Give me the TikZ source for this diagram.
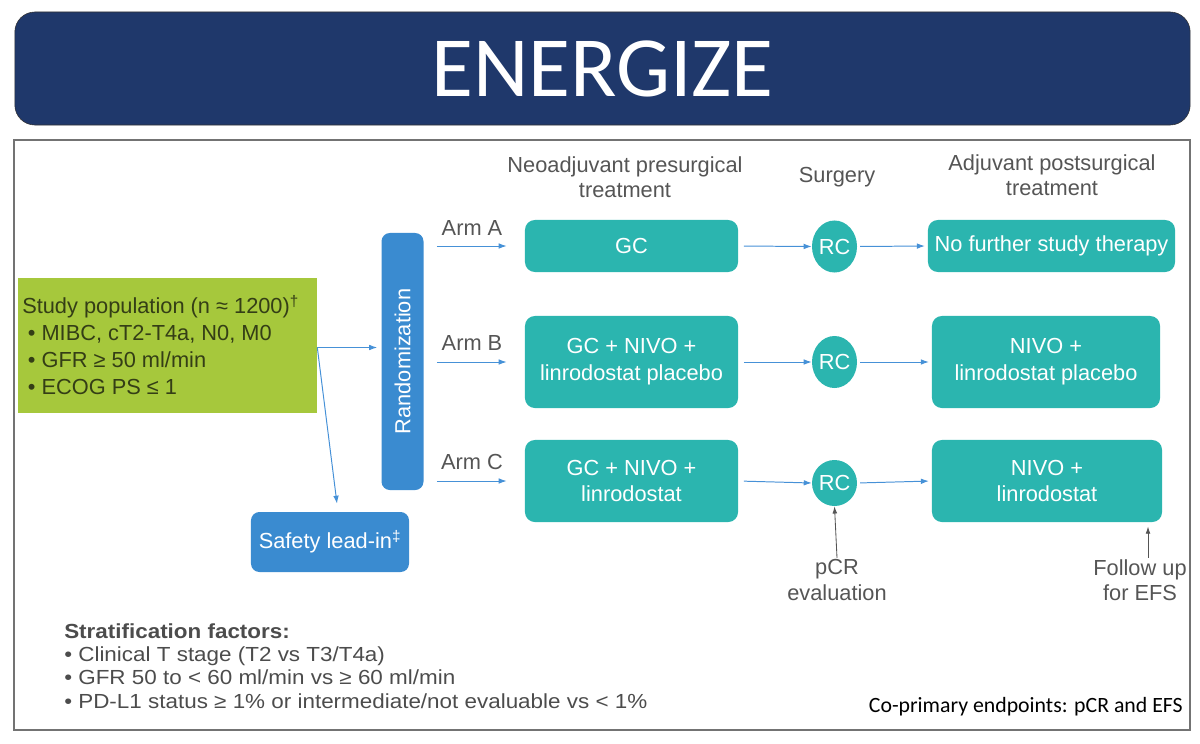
\documentclass[tikz,border=0pt]{standalone}
\usepackage{fontspec}
\setmainfont{Liberation Sans}
\newfontfamily\calibri{Carlito}
\newfontfamily\widesans{Liberation Sans}[FakeStretch=1.1]
\usepackage{tikz}
\usetikzlibrary{positioning,shapes.geometric,arrows.meta}

\definecolor{navy}{RGB}{31,56,107}
\definecolor{trialteal}{RGB}{43,181,175}
\definecolor{randblue}{RGB}{58,139,208}
\definecolor{popgreen}{RGB}{166,200,60}
\definecolor{poptext}{RGB}{52,62,22}
\definecolor{arrowblue}{RGB}{70,145,215}
\definecolor{txtgrey}{RGB}{85,85,85}

\tikzset{
  tbox/.style={fill=trialteal, rounded corners=7pt, text=white, align=center, inner sep=0pt,
    font=\fontsize{15.5}{19}\selectfont},
  rcnode/.style={ellipse, fill=trialteal, text=white, inner sep=0pt, minimum width=1.125cm,
    minimum height=1.3cm, font=\fontsize{15.5}{19}\selectfont},
  bluebox/.style={fill=randblue, rounded corners=6pt, text=white, inner sep=0pt,
    font=\fontsize{15.5}{19}\selectfont},
  lbl/.style={text=txtgrey, align=center, inner sep=1pt, font=\fontsize{15.5}{18}\selectfont},
  arr/.style={draw=arrowblue, line width=0.7pt, -{Latex[length=2mm,width=1.4mm]}},
  greyarr/.style={draw=txtgrey, line width=0.6pt, -{Latex[length=1.8mm,width=1.2mm]}}
}

\begin{document}
\begin{tikzpicture}[x=0.025cm, y=-0.025cm]
  \useasboundingbox (0,0) rectangle (1200,743);

  % Titolo
  \node[fill=navy, draw=black!80, rounded corners=0.5cm, minimum width=29.375cm,
    minimum height=2.825cm, inner sep=0pt] (banner) at (602.5,68.5) {};
  \node[text=white, font=\calibri\fontsize{61}{61}\selectfont] (title) at (banner) {ENERGIZE};
  \draw[black!55, line width=1pt] (14,140) rectangle (1190,730);

  % Popolazione e randomizzazione
  \node[fill=popgreen, minimum width=7.475cm, minimum height=3.375cm, inner sep=0pt] (pop) at (167.5,345.5) {};
  \node[text=poptext, align=left, anchor=north west, inner sep=0pt,
    font=\fontsize{15.5}{19.2}\selectfont] (poptxt) at (22,295)
    {Study population (n ≈ 1200)\textsuperscript{†}\\
     \hspace{4pt}• MIBC, cT2-T4a, N0, M0\\
     \hspace{4pt}• GFR ≥ 50 ml/min\\
     \hspace{4pt}• ECOG PS ≤ 1};
  \node[bluebox, minimum width=1.05cm, minimum height=6.425cm] (rand) at (402.5,361.5) {};
  \node[text=white, rotate=90, font=\fontsize{15.5}{19}\selectfont] (randtxt) at (rand) {Randomization};
  \node[bluebox, minimum width=3.95cm, minimum height=1.5cm] (safety) at (330,542) {Safety lead-in\textsuperscript{‡}};

  % Intestazioni
  \node[lbl] (neohead) at (625,177) {Neoadjuvant presurgical\\treatment};
  \node[lbl] (surghead) at (837,177) {Surgery};
  \node[lbl] (adjhead) at (1052,175) {Adjuvant postsurgical\\treatment};

  % Bracci
  \node[tbox, minimum width=5.325cm, minimum height=1.3cm] (gcA) at (631.5,246) {GC};
  \node[tbox, minimum width=5.325cm, minimum height=2.3cm] (gcB) at (631.5,362) {GC + NIVO +\\linrodostat placebo};
  \node[tbox, minimum width=5.325cm, minimum height=2.05cm] (gcC) at (631.5,481) {GC + NIVO +\\linrodostat};

  \node[rcnode] (rcA) at (834.5,246.5) {RC};
  \node[rcnode] (rcB) at (834.5,362) {RC};
  \node[rcnode, minimum height=1.15cm] (rcC) at (834.5,483) {RC};

  \node[tbox, minimum width=6.175cm, minimum height=1.3cm] (adjA) at (1051.5,246) {No further study therapy};
  \node[tbox, minimum width=5.7cm, minimum height=2.3cm] (adjB) at (1046,362) {NIVO +\\linrodostat placebo};
  \node[tbox, minimum width=5.75cm, minimum height=2.05cm] (adjC) at (1047,481) {NIVO +\\linrodostat};

  \node[lbl] (armA) at (472,228) {Arm A};
  \node[lbl] (armB) at (472,343) {Arm B};
  \node[lbl] (armC) at (472,462) {Arm C};

  \foreach \r in {A,B,C} {
    \draw[arr] ([xshift=0.325cm]rand.east |- gc\r.west) -- ([xshift=-0.45cm]gc\r.west);
    \draw[arr, shorten <=4pt] (gc\r.east) -- (rc\r.west);
    \draw[arr, shorten <=2pt, shorten >=2pt] (rc\r.east) -- (adj\r.west);
  }

  \draw[arr] ([yshift=-0.05cm]pop.east) -- ([xshift=-0.1cm, yshift=-0.05cm]pop.east -| rand.west);
  \draw[arr] ([yshift=-0.05cm]pop.east) -- ([xshift=0.175cm, yshift=0.2cm]safety.north);

  % Valutazioni
  \node[lbl] (pcr) at (837,580) {pCR\\evaluation};
  \draw[greyarr] (pcr.north) -- (rcC.south);
  \node[lbl] (followup) at (1140,580) {Follow up\\for EFS};
  \draw[greyarr, shorten >=3pt] ([xshift=0.2cm]followup.north) -- ([xshift=0.2cm]followup.north |- adjC.south);

  % Fattori di stratificazione
  \node[text=black!70, align=left, anchor=north west, inner sep=0pt,
    font=\widesans\fontsize{14.5}{16.6}\selectfont] (strat) at (64,623)
    {\textbf{Stratification factors:}\\
     • Clinical T stage (T2 vs T3/T4a)\\
     • GFR 50 to < 60 ml/min vs ≥ 60 ml/min\\
     • PD-L1 status ≥ 1\% or intermediate/not evaluable vs < 1\%};
  \node[anchor=east, inner sep=0pt, font=\calibri\fontsize{15.5}{17}\selectfont] (endpoints) at (1183,707)
    {Co-primary endpoints: pCR and EFS};
\end{tikzpicture}
\end{document}
